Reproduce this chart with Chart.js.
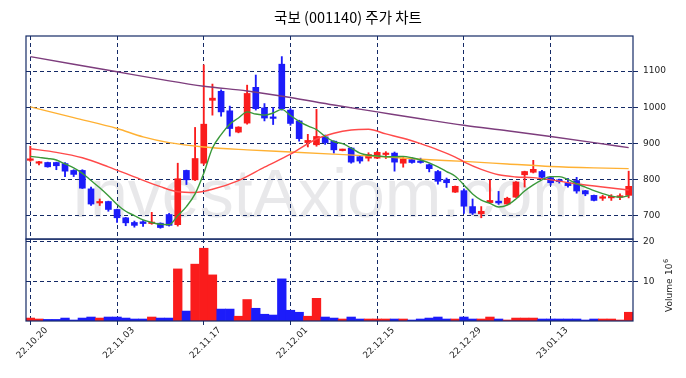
<!DOCTYPE html>
<html>
<head>
<meta charset="utf-8">
<script src="https://cdn.jsdelivr.net/npm/chart.js@4.4.0/dist/chart.umd.min.js"></script>
<style>
  html, body { margin: 0; padding: 0; background: #fff; }
  #wrap { width: 686px; height: 378px; position: relative; }
</style>
</head>
<body>
<div id="wrap"><canvas id="stockChart" width="686" height="378"></canvas></div>
<script>
// Trading days shown on the chart
const dates = [
    '22.10.20','22.10.21','22.10.24','22.10.25','22.10.26','22.10.27','22.10.28','22.10.31','22.11.01','22.11.02',
    '22.11.03','22.11.04','22.11.07','22.11.08','22.11.09','22.11.10','22.11.11','22.11.14','22.11.15','22.11.16',
    '22.11.17','22.11.18','22.11.21','22.11.22','22.11.23','22.11.24','22.11.25','22.11.28','22.11.29','22.11.30',
    '22.12.01','22.12.02','22.12.05','22.12.06','22.12.07','22.12.08','22.12.09','22.12.12','22.12.13','22.12.14',
    '22.12.15','22.12.16','22.12.19','22.12.20','22.12.21','22.12.22','22.12.23','22.12.26','22.12.27','22.12.28',
    '22.12.29','23.01.02','23.01.03','23.01.04','23.01.05','23.01.06','23.01.09','23.01.10','23.01.11','23.01.12',
    '23.01.13','23.01.16','23.01.17','23.01.18','23.01.19','23.01.20','23.01.25','23.01.26','23.01.27','23.01.30'
];
const tickLabels = ['22.10.20','22.11.03','22.11.17','22.12.01','22.12.15','22.12.29','23.01.13'];

// OHLC (won)
const opens = [
    853,845,847,847,844,825,825,774,735,739, 717,694,681,683,678,679,703,675,825,799,
    845,1019,1044,990,931,956,1055,998,972,1119, 992,962,902,896,918,906,880,887,863,859,
    859,869,873,845,855,849,841,822,799,765, 769,725,705,736,740,732,751,813,820,822,
    805,799,791,797,769,756,748,749,751,756
];
const highs = [
    892,850,848,848,847,827,827,779,746,740, 718,695,685,686,709,680,706,845,826,944,
    1117,1064,1048,1003,946,1061,1089,1010,999,1140, 996,964,925,994,923,907,884,889,864,874,
    878,877,876,861,860,859,843,825,804,782, 774,746,725,799,767,751,794,823,853,825,
    808,801,803,806,770,757,756,758,760,823
];
const lows = [
    850,840,834,827,808,808,775,728,728,712, 681,672,668,670,676,665,671,671,786,797,
    840,978,975,920,929,953,992,962,952,992, 950,906,890,892,897,873,879,845,845,851,
    858,858,823,834,845,845,821,787,778,764, 706,703,694,734,731,731,750,779,818,803,
    784,790,779,762,755,741,742,742,744,749
];
const closes = [
    856,848,835,838,823,814,776,732,738,717, 694,680,673,678,682,667,673,802,799,858,
    953,1025,987,941,945,1038,996,970,969,996, 955,913,908,919,902,882,883,848,851,869,
    875,873,848,857,847,847,830,795,791,781, 726,707,712,742,735,748,793,822,828,806,
    791,794,783,768,760,742,750,751,755,781
];
// Volume (x 10^6 shares)
const volumes = [
    0.74,0.5,0.4,0.4,0.74,0.25,0.74,1.0,0.74,1.0, 1.0,0.74,0.5,0.5,1.0,0.74,0.74,13.1,2.5,14.3,
    18.3,11.6,3.0,3.0,1.2,5.4,3.2,1.7,1.5,10.6, 2.7,2.2,1.2,5.7,1.0,0.74,0.5,1.0,0.5,0.5,
    0.5,0.5,0.5,0.5,0.25,0.5,0.74,1.0,0.5,0.5, 1.0,0.5,0.5,1.0,0.5,0.25,0.74,0.74,0.74,0.5,
    0.5,0.5,0.5,0.5,0.25,0.5,0.5,0.5,0.25,2.2
];

// Moving averages
const ma5 = [
    864,861,858,854,843,832,817,797,777,755, 731,712,700,688,681,676,675,700,725,760,
    817,887,924,953,970,987,981,978,984,994, 977,961,948,938,919,905,899,887,873,867,
    865,863,863,864,860,854,846,835,822,809, 785,760,743,734,724,729,746,768,785,799,
    808,808,800,788,779,769,761,754,751,755
];
// [day index, value]
const ma20 = [
    [0,885],[3,875],[6,860],[9,835],[12,807],[15,780],[17,766],[19,764],[21,773],[24,797],
    [27,834],[30,870],[33,912],[35,928],[37,937],[39,939],[41,926],[43,914],[45,899],[47,882],
    [49,862],[50,849],[52,828],[54,813],[56,807],[58,805],[60,799],[63,788],[66,779],[69,771]
];
const ma60 = [
    [0,1001],[5,971],[10,941],[13,918],[16,902],[20,890],[25,882],[30,876],[35,870],[40,864],
    [45,856],[50,850],[55,843],[60,836],[65,832],[69,830]
];
const ma120 = [
    [0,1140],[5,1119],[10,1098],[15,1077],[20,1058],[25,1045],[30,1027],[35,1006],[40,987],
    [45,968],[50,950],[55,935],[60,919],[65,902],[69,888]
];

const priceTicks = [700, 800, 900, 1000, 1100];
const volumeTicks = [10, 20];
const priceRange = [635, 1197];
const volumeRange = [0, 20.6];

const UP = '#fa1c1c';
const DOWN = '#1c1cfa';
const NAVY = '#142a66';
const TICK_FONT = { family: 'DejaVu Sans', size: 9 };

const candleColors = closes.map((c, i) => c >= opens[i] ? UP : DOWN);
const toPoints = pairs => pairs.map(p => ({ x: dates[p[0]], y: p[1] }));
const isLabelled = i => tickLabels.includes(dates[i]);

// Watermark, panel frames, title and volume label
const decorations = {
    id: 'decorations',
    beforeDraw(chart) {
        const ctx = chart.ctx;
        ctx.save();
        ctx.fillStyle = '#ffffff';
        ctx.fillRect(0, 0, chart.width, chart.height);
        ctx.fillStyle = 'rgba(200,200,205,0.42)';
        ctx.font = '68px "Liberation Sans", Arial, sans-serif';
        ctx.textAlign = 'center';
        ctx.textBaseline = 'alphabetic';
        ctx.fillText('InvestAxiom.com', 330, 217);
        ctx.restore();
    },
    afterDraw(chart) {
        const ctx = chart.ctx;
        const area = chart.chartArea;
        const y = chart.scales.y;
        const yv = chart.scales.yv;
        ctx.save();
        ctx.strokeStyle = NAVY;
        ctx.lineWidth = 1.2;
        ctx.strokeRect(area.left, y.top, area.right - area.left, y.bottom - y.top);
        ctx.strokeRect(area.left, yv.top, area.right - area.left, yv.bottom - yv.top);

        ctx.fillStyle = '#000';
        ctx.font = '14.5px "Noto Sans CJK KR", sans-serif';
        ctx.textAlign = 'center';
        ctx.textBaseline = 'middle';
        ctx.fillText('국보 (001140) 주가 차트', 348, 17);

        ctx.fillStyle = '#222';
        ctx.translate(672, 312);
        ctx.rotate(-Math.PI / 2);
        ctx.textAlign = 'left';
        ctx.textBaseline = 'alphabetic';
        ctx.font = '9px "DejaVu Sans"';
        ctx.fillText('Volume', 0, 0);
        ctx.fillText('10', 37, 0);
        const w = ctx.measureText('10').width;
        ctx.font = '6.5px "DejaVu Sans"';
        ctx.fillText('6', 37 + w + 0.5, -4);
        ctx.restore();
    }
};

const ctx = document.getElementById('stockChart').getContext('2d');
const stockChart = new Chart(ctx, {
    type: 'bar',
    data: {
        labels: dates,
        datasets: [
            { type: 'line', data: ma5, yAxisID: 'y', borderColor: '#3a993a', borderWidth: 1.4,
              pointRadius: 0, cubicInterpolationMode: 'monotone', order: 0 },
            { type: 'line', data: toPoints(ma20), yAxisID: 'y', borderColor: '#ff4a4a', borderWidth: 1.4,
              pointRadius: 0, cubicInterpolationMode: 'monotone', order: 0 },
            { type: 'line', data: toPoints(ma60), yAxisID: 'y', borderColor: '#ffb133', borderWidth: 1.4,
              pointRadius: 0, cubicInterpolationMode: 'monotone', order: 0 },
            { type: 'line', data: toPoints(ma120), yAxisID: 'y', borderColor: '#7d3d7d', borderWidth: 1.4,
              pointRadius: 0, cubicInterpolationMode: 'monotone', order: 0 },
            { data: opens.map((o, i) => [o, closes[i]]), yAxisID: 'y', backgroundColor: candleColors,
              barThickness: 6, minBarLength: 1.5, grouped: false, borderWidth: 0, order: 1 },
            { data: lows.map((l, i) => [l, highs[i]]), yAxisID: 'y', backgroundColor: candleColors,
              barThickness: 1.2, grouped: false, borderWidth: 0, order: 2 },
            { data: volumes, yAxisID: 'yv', backgroundColor: candleColors,
              barPercentage: 1, categoryPercentage: 1, grouped: false, borderWidth: 0, order: 3 }
        ]
    },
    options: {
        responsive: false,
        animation: false,
        devicePixelRatio: 1,
        layout: { padding: { left: 26, top: 36, right: 0, bottom: 0 } },
        plugins: { legend: { display: false }, tooltip: { enabled: false }, title: { display: false } },
        scales: {
            x: {
                type: 'category',
                offset: true,
                grid: {
                    offset: false,
                    color: c => isLabelled(c.index) ? NAVY : 'rgba(0,0,0,0)',
                    tickColor: c => isLabelled(c.index) ? NAVY : 'rgba(0,0,0,0)',
                    tickLength: 4,
                    lineWidth: 1
                },
                border: { display: false, dash: [4, 3] },
                ticks: {
                    autoSkip: false,
                    maxRotation: 45,
                    minRotation: 45,
                    labelOffset: 16,
                    padding: 0,
                    font: TICK_FONT,
                    color: '#222',
                    callback: (v, i) => isLabelled(i) ? dates[i] : ''
                },
                afterFit: s => { s.height = 57; s.paddingLeft = 0; s.paddingRight = 0; }
            },
            y: {
                position: 'right',
                stack: 'panels',
                stackWeight: 2.48,
                min: priceRange[0],
                max: priceRange[1],
                afterBuildTicks: s => { s.ticks = priceTicks.map(v => ({ value: v })); },
                grid: { color: NAVY, tickColor: NAVY, tickLength: 5, lineWidth: 1 },
                border: { display: false, dash: [4, 3] },
                ticks: { font: TICK_FONT, color: '#222', padding: 5, callback: v => String(v) },
                afterFit: s => { s.width = 53; s.paddingTop = 0; s.paddingBottom = 0; }
            },
            yv: {
                position: 'right',
                stack: 'panels',
                stackWeight: 1,
                min: volumeRange[0],
                max: volumeRange[1],
                afterBuildTicks: s => { s.ticks = volumeTicks.map(v => ({ value: v })); },
                grid: { color: NAVY, tickColor: NAVY, tickLength: 5, lineWidth: 1 },
                border: { display: false, dash: [4, 3] },
                ticks: { font: TICK_FONT, color: '#222', padding: 5, callback: v => String(v) },
                afterFit: s => { s.width = 53; s.paddingTop = 0; s.paddingBottom = 0; }
            }
        }
    },
    plugins: [decorations]
});
</script>
</body>
</html>
